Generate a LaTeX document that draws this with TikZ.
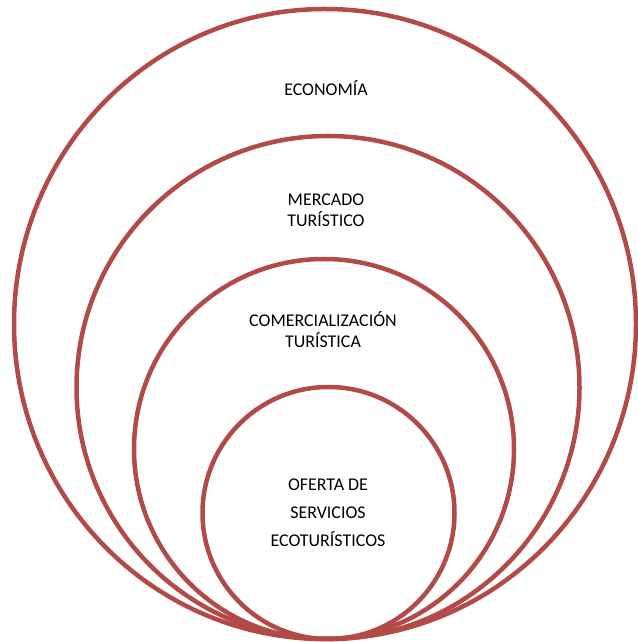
\documentclass[tikz,border=0pt]{standalone}
\usepackage{fontspec}
\setmainfont{Carlito}
\usepackage{tikz}
\usetikzlibrary{shapes}
\definecolor{ringred}{RGB}{178,74,71}

\begin{document}
\begin{tikzpicture}[line join=bevel,]
\useasboundingbox (0bp,0bp) rectangle (638bp,642bp);
%%
\begin{scope}[line width=4.5bp,draw=ringred]
  \node (Economia) at (325bp,318bp) [draw,ellipse,inner sep=0pt,minimum width=622bp,minimum height=630bp] {};
  \node (Mercado) at (328bp,254.5bp) [draw,circle,inner sep=0pt,minimum size=503bp] {};
  \node (Comercializacion) at (324bp,193bp) [draw,circle,inner sep=0pt,minimum size=380bp] {};
  \node (Oferta) at (328.5bp,129bp) [draw,circle,inner sep=0pt,minimum size=252bp] {};
\end{scope}
\begin{scope}[font=\fontsize{18}{21}\selectfont,align=center]
  \node (Economia label) at (326bp,554bp) {ECONOMÍA};
  \node (Mercado label) at (326bp,432bp) {MERCADO\\TURÍSTICO};
  \node (Comercializacion label) at (323bp,312bp) {COMERCIALIZACIÓN\\TURÍSTICA};
  \node (Oferta label) at (328bp,129bp) [font=\fontsize{18}{28}\selectfont] {OFERTA DE\\SERVICIOS\\ECOTURÍSTICOS};
\end{scope}
%
\end{tikzpicture}
\end{document}
